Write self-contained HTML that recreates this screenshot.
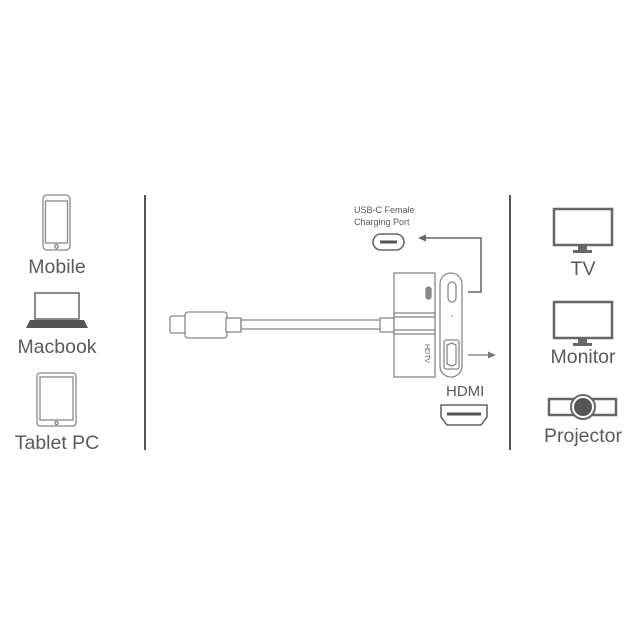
<!DOCTYPE html>
<html><head><meta charset="utf-8"><style>
html,body{margin:0;padding:0;background:#fff;}
svg{display:block;}
text{font-family:"Liberation Sans",sans-serif;fill:#5a5a5a;}
</style></head><body>
<svg width="640" height="640" viewBox="0 0 640 640" xmlns="http://www.w3.org/2000/svg">
<g fill="none" stroke="#888" stroke-width="1.3">
<rect x="43" y="195" width="27" height="55" rx="4"/>
<rect x="45.5" y="201" width="22" height="42"/>
<circle cx="56.5" cy="246.5" r="1.8"/>
<rect x="37" y="373" width="39" height="53" rx="3"/>
<rect x="40" y="377" width="33" height="43"/>
<circle cx="56.5" cy="423" r="1.6"/>
<rect x="35" y="293" width="44" height="26" stroke-width="1.5" stroke="#666"/>
</g>
<path d="M30 320 L84 320 L88 328 L26 328 Z" fill="#555"/>
<text x="57" y="273" font-size="19.5" text-anchor="middle">Mobile</text>
<text x="57" y="353" font-size="19.5" text-anchor="middle">Macbook</text>
<text x="57" y="449" font-size="19.5" text-anchor="middle">Tablet PC</text>

<line x1="145" y1="195" x2="145" y2="450" stroke="#555" stroke-width="2"/>
<line x1="510" y1="195" x2="510" y2="450" stroke="#555" stroke-width="2"/>

<g fill="none" stroke="#666" stroke-width="2.5">
<rect x="554" y="209" width="58" height="36"/>
<rect x="554" y="302" width="58" height="36"/>
<rect x="549" y="399" width="67" height="16"/>
</g>
<path d="M578 246 L587 246 L587 250 L592 250 L592 253 L573 253 L573 250 L578 250 Z" fill="#666"/>
<path d="M578 339 L587 339 L587 343 L592 343 L592 346 L573 346 L573 343 L578 343 Z" fill="#666"/>
<circle cx="583" cy="407" r="12" fill="#fff" stroke="#666" stroke-width="2"/>
<circle cx="583" cy="407" r="9" fill="#555"/>
<text x="583" y="275" font-size="19.5" text-anchor="middle">TV</text>
<text x="583" y="363" font-size="19.5" text-anchor="middle">Monitor</text>
<text x="583" y="442" font-size="19.5" text-anchor="middle">Projector</text>

<g fill="#fff" stroke="#888" stroke-width="1.3">
<rect x="170" y="316" width="16" height="17" rx="2"/>
<rect x="185" y="312" width="42" height="26" rx="3"/>
<rect x="226" y="318" width="15" height="14"/>
<rect x="241" y="320" width="140" height="9"/>
<rect x="380" y="318" width="14" height="14"/>
<rect x="394" y="273" width="41" height="104"/>
<rect x="394" y="313" width="41" height="4"/>
<rect x="394" y="330" width="41" height="4"/>
<rect x="426" y="287" width="5" height="12" rx="2.5" fill="#888"/>
<rect x="440" y="273" width="22" height="104" rx="11"/>
<rect x="448" y="282" width="8" height="20" rx="4"/>
<rect x="444" y="340" width="15" height="29" rx="2"/>
<path d="M447 345 L452 343 L456 345 L456 364 L452 366 L447 364 Z"/>
<rect x="373" y="234" width="31" height="16" rx="8" stroke-width="1.6" stroke="#666"/>
<path d="M441 405 L487 405 L487 417 L481 425 L447 425 L441 417 Z" stroke-width="1.6" stroke="#666"/>
</g>
<line x1="380" y1="242" x2="397" y2="242" stroke="#555" stroke-width="3"/>
<line x1="447" y1="414" x2="481" y2="414" stroke="#555" stroke-width="3"/>
<circle cx="452" cy="316" r="0.8" fill="#777"/>
<text x="0" y="0" font-size="7" transform="translate(425,344) rotate(90)" fill="#666">HDTV</text>

<path d="M468 292 L481 292 L481 238 L424 238" fill="none" stroke="#666" stroke-width="1.5"/>
<path d="M418 238 L426 234.5 L426 241.5 Z" fill="#666"/>
<line x1="468" y1="355" x2="490" y2="355" stroke="#777" stroke-width="1.2"/>
<path d="M496 355 L488 351.5 L488 358.5 Z" fill="#777"/>

<text x="354" y="213" font-size="9">USB-C Female</text>
<text x="354" y="225" font-size="9">Charging Port</text>
<text x="446" y="396" font-size="15">HDMI</text>
</svg>
</body></html>
